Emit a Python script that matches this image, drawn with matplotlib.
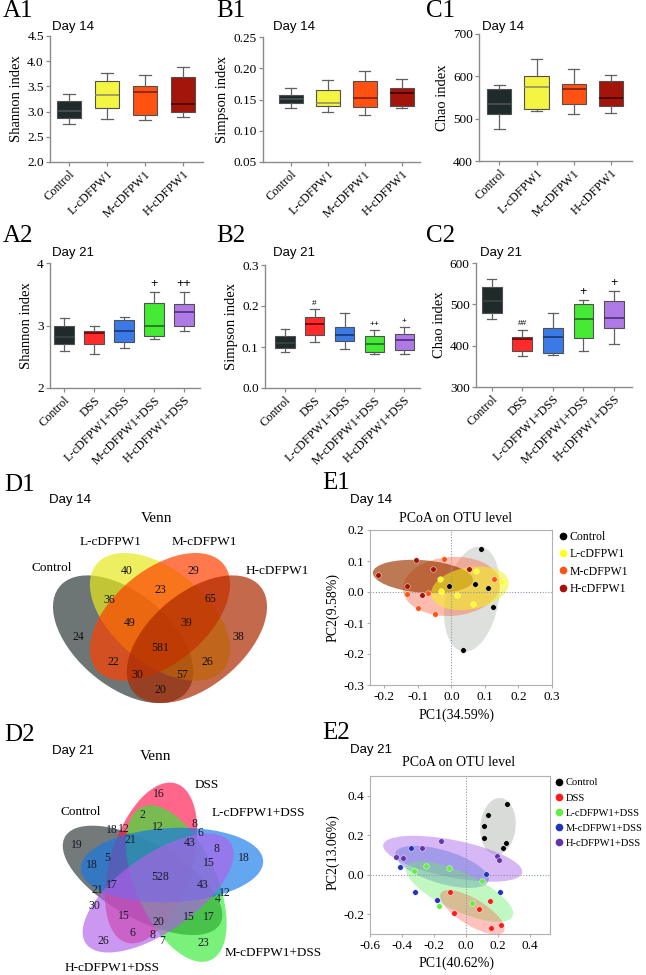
import numpy as np
import matplotlib
matplotlib.use("Agg")
import matplotlib.pyplot as plt
from matplotlib.patches import Ellipse
from matplotlib.lines import Line2D
from matplotlib.transforms import Affine2D

# ======================= DATA =======================
groups14 = ["Control", "L-cDFPW1", "M-cDFPW1", "H-cDFPW1"]
groups21 = ["Control", "DSS", "L-cDFPW1+DSS", "M-cDFPW1+DSS", "H-cDFPW1+DSS"]

# box statistics per group: [whisker low, Q1, median, Q3, whisker high]
shannon14 = [[2.76, 2.87, 3.02, 3.21, 3.34],
             [2.86, 3.08, 3.33, 3.60, 3.76],
             [2.84, 2.94, 3.39, 3.51, 3.73],
             [2.90, 2.99, 3.16, 3.69, 3.89]]
simpson14 = [[0.136, 0.145, 0.151, 0.158, 0.168],
             [0.130, 0.140, 0.145, 0.165, 0.181],
             [0.126, 0.138, 0.153, 0.180, 0.195],
             [0.136, 0.140, 0.160, 0.168, 0.183]]
chao14 = [[476, 510, 534, 569, 580],
          [518, 524, 575, 601, 640],
          [511, 534, 571, 583, 618],
          [513, 531, 549, 589, 603]]
shannon21 = [[2.59, 2.70, 2.82, 2.99, 3.12],
             [2.54, 2.70, 2.88, 2.91, 2.99],
             [2.64, 2.73, 2.92, 3.09, 3.13],
             [2.79, 2.83, 3.00, 3.36, 3.53],
             [2.91, 2.99, 3.21, 3.34, 3.54]]
simpson21 = [[0.088, 0.098, 0.110, 0.126, 0.143],
             [0.113, 0.129, 0.156, 0.172, 0.193],
             [0.094, 0.115, 0.130, 0.149, 0.183],
             [0.082, 0.088, 0.108, 0.126, 0.141],
             [0.082, 0.092, 0.118, 0.132, 0.149]]
chao21 = [[465, 478, 507, 542, 562],
          [374, 388, 415, 422, 439],
          [378, 383, 420, 442, 478],
          [388, 418, 464, 502, 511],
          [403, 443, 466, 507, 532]]
sig_shannon21 = ["", "", "", "+", "++"]
sig_simpson21 = ["", "#", "", "++", "+"]
sig_chao21 = ["", "##", "", "+", "+"]

# Venn counts
venn14_sets = ["Control", "L-cDFPW1", "M-cDFPW1", "H-cDFPW1"]
venn14_counts = [40, 29, 36, 23, 65, 24, 49, 39, 38, 581, 22, 26, 30, 57, 20]
venn21_sets = ["Control", "DSS", "L-cDFPW1+DSS", "M-cDFPW1+DSS", "H-cDFPW1+DSS"]
venn21_counts = [16, 2, 18, 12, 12, 8, 6, 19, 21, 43, 8, 18, 18, 5, 15, 528,
                 17, 43, 12, 4, 21, 30, 15, 20, 15, 17, 26, 6, 8, 7, 23]

# PCoA day 14 (PC1, PC2) per group
pcoa14_groups = ["Control", "L-cDFPW1", "M-cDFPW1", "H-cDFPW1"]
pcoa14_x = [[0.088, -0.008, 0.071, 0.110, 0.124, 0.034],
            [-0.034, -0.031, 0.016, 0.073, 0.065, 0.150],
            [-0.021, -0.134, -0.070, -0.100, -0.049, 0.126],
            [-0.220, -0.105, -0.055, -0.134, -0.089, 0.053]]
pcoa14_y = [[0.138, 0.019, 0.027, 0.014, -0.049, -0.187],
            [0.041, 0.003, -0.010, 0.068, -0.040, 0.033],
            [0.105, -0.008, -0.004, -0.051, -0.070, 0.041],
            [0.055, 0.102, 0.074, 0.019, -0.010, 0.074]]
# confidence ellipses: centre x, centre y, width, height, angle
pcoa14_ell_cx = [0.061, 0.055, 0.000, -0.085]
pcoa14_ell_cy = [-0.023, 0.012, 0.018, 0.050]
pcoa14_ell_w = [0.342, 0.235, 0.290, 0.300]
pcoa14_ell_h = [0.160, 0.135, 0.190, 0.105]
pcoa14_ell_ang = [81, 12, 5, -5]

pcoa21_groups = ["Control", "DSS", "L-cDFPW1+DSS", "M-cDFPW1+DSS", "H-cDFPW1+DSS"]
pcoa21_x = [[0.257, 0.137, 0.110, 0.114, 0.248, 0.232],
            [-0.102, 0.152, 0.081, -0.072, 0.217, 0.158],
            [-0.328, -0.250, -0.104, 0.100, 0.035, -0.167],
            [-0.343, -0.410, 0.125, -0.316, 0.211, -0.184],
            [-0.154, -0.276, -0.439, -0.395, 0.196, 0.204]]
pcoa21_y = [[0.360, 0.301, 0.245, 0.188, 0.162, 0.134],
            [-0.088, -0.132, -0.173, -0.195, -0.252, -0.271],
            [0.017, 0.044, 0.034, -0.032, -0.144, -0.156],
            [0.134, 0.037, 0.005, -0.088, -0.086, -0.127],
            [0.172, 0.135, 0.091, 0.083, 0.093, 0.073]]
pcoa21_ell_cx = [0.200, 0.040, -0.040, -0.150, -0.083]
pcoa21_ell_cy = [0.245, -0.190, -0.085, 0.040, 0.081]
pcoa21_ell_w = [0.290, 0.440, 0.710, 0.600, 0.880]
pcoa21_ell_h = [0.220, 0.140, 0.200, 0.170, 0.190]
pcoa21_ell_ang = [80, -25, -20, -13, -9]

# ======================= FIGURE =======================
W, H = 646, 975
fig = plt.figure(figsize=(W / 100, H / 100), dpi=100)
SERIF = ["Liberation Serif", "DejaVu Serif"]
SANS = ["Liberation Sans", "DejaVu Sans"]
plt.rcParams['font.family'] = SERIF


def px_axes(l, t, r, b):
    return fig.add_axes([l / W, 1 - b / H, (r - l) / W, (b - t) / H])


def ftext(x, y, s, **kw):
    kw.setdefault('va', 'center')
    return fig.text(x / W, 1 - y / H, s, **kw)


def panel_header(letter, lx, ly, day, dx, dy):
    ftext(lx, ly, letter, fontsize=18, family=SERIF, ha='left')
    ftext(dx, dy, day, fontsize=9.5, family=SANS, ha='left')


col14 = ["#1f2b2b", "#f4f442", "#ff5212", "#a3140a"]
med14 = ["#555555", "#8a8a60", "#7a1a08", "#3a0000"]
col21 = ["#1f2b2b", "#ff2a2a", "#3a7ae6", "#44ea33", "#b07ae6"]
med21 = ["#444444", "#600000", "#16306e", "#206020", "#462a70"]


def boxpanel(rect, xlim, stats, groups, colors, medcols, ylim, yticks, yfmt,
             ylabel, sig=None, sigsize=9):
    ax = px_axes(*rect)
    pos = np.arange(1, len(groups) + 1)
    bst = [dict(whislo=s[0], q1=s[1], med=s[2], q3=s[3], whishi=s[4], label=g)
           for s, g in zip(stats, groups)]
    bp = ax.bxp(bst, positions=pos, widths=0.65, capwidths=0.3, showfliers=False,
                patch_artist=True,
                boxprops=dict(linewidth=0.8, edgecolor='#505050'),
                whiskerprops=dict(color='#606060', linewidth=0.9),
                capprops=dict(color='#606060', linewidth=0.9),
                medianprops=dict(linewidth=1.1))
    for patch, c in zip(bp['boxes'], colors):
        patch.set_facecolor(c)
    for m, c in zip(bp['medians'], medcols):
        m.set_color(c)
    ax.set_xlim(*xlim)
    ax.set_ylim(ylim)
    ax.set_yticks(yticks)
    ax.set_yticklabels([yfmt.format(v) for v in yticks], fontsize=9.5)
    ax.set_xticks(pos)
    ax.set_xticklabels(groups, rotation=45, ha='right', rotation_mode='anchor',
                       fontsize=8.8)
    for sp in ['top', 'right']:
        ax.spines[sp].set_visible(False)
    for sp in ['left', 'bottom']:
        ax.spines[sp].set_color('#8a8a8a')
        ax.spines[sp].set_linewidth(1.0)
    ax.tick_params(axis='both', length=3, color='#8a8a8a', width=0.9, pad=1.5)
    ax.set_ylabel(ylabel, fontsize=10.5, labelpad=3)
    if sig is not None:
        for p, s, st in zip(pos, sig, stats):
            if s:
                fs = 6 if ('#' in s or sigsize < 7) else sigsize
                ax.annotate(s, xy=(p, st[4]), xytext=(0, 1.5), textcoords='offset points',
                            ha='center', va='bottom', fontsize=fs, family=SANS)
    return ax


# ---- Row 1 (Day 14) ----
panel_header("A1", 3, 11, "Day 14", 52, 27)
boxpanel((50, 36, 203, 162), (0.5, 4.53), shannon14, groups14, col14, med14,
         (2.0, 4.5), [2.0, 2.5, 3.0, 3.5, 4.0, 4.5], "{:.1f}", "Shannon index")
panel_header("B1", 216, 11, "Day 14", 273, 27)
boxpanel((263, 37, 420, 162), (0.25, 4.5), simpson14, groups14, col14, med14,
         (0.05, 0.25), [0.05, 0.10, 0.15, 0.20, 0.25], "{:.2f}", "Simpson index")
panel_header("C1", 426, 11, "Day 14", 482, 27)
boxpanel((479, 34, 632, 161), (0.45, 4.57), chao14, groups14, col14, med14,
         (400, 700), [400, 500, 600, 700], "{:d}", "Chao index")

# ---- Row 2 (Day 21) ----
panel_header("A2", 3, 236, "Day 21", 52, 253)
boxpanel((50, 263, 200, 388), (0.53, 5.53), shannon21, groups21, col21, med21,
         (2, 4), [2, 3, 4], "{:d}", "Shannon index", sig=sig_shannon21, sigsize=9)
panel_header("B2", 216, 236, "Day 21", 273, 253)
boxpanel((265, 265, 420, 388), (0.33, 5.53), simpson21, groups21, col21, med21,
         (0.0, 0.3), [0.0, 0.1, 0.2, 0.3], "{:.1f}", "Simpson index", sig=sig_simpson21,
         sigsize=6)
panel_header("C2", 426, 236, "Day 21", 480, 253)
boxpanel((476, 263, 632, 387), (0.48, 5.59), chao21, groups21, col21, med21,
         (300, 600), [300, 400, 500, 600], "{:d}", "Chao index", sig=sig_chao21, sigsize=9)

# ---- D1: 4-set Venn ----
panel_header("D1", 4, 485, "Day 14", 49, 500)
ftext(157, 518, "Venn", fontsize=11, ha='center')
axd1 = px_axes(0, 520, 320, 730)
axd1.set_xlim(0, 320)
axd1.set_ylim(730, 520)
axd1.axis('off')
uv2px = Affine2D().scale(246, -224).translate(160 - 0.5 * 246, 553 + 0.855 * 224)
venn14_cols = ["#303a3a", "#e7e91c", "#ff4100", "#ab2a00"]
venn14_geo = [((0.35, 0.47), -45), ((0.50, 0.57), -45), ((0.50, 0.57), 45), ((0.65, 0.47), 45)]
for (cxy, ang), c in zip(venn14_geo, venn14_cols):
    e = Ellipse(cxy, 0.70, 0.40, angle=ang, facecolor=c, edgecolor='none', alpha=0.7,
                transform=uv2px + axd1.transData)
    axd1.add_patch(e)
venn14_pos = [(127, 571), (193, 571), (109, 600), (160, 590), (210, 599), (78, 637),
              (130, 623), (186, 623), (238, 637), (160, 648), (113, 662), (207, 662),
              (137, 675), (182, 675), (160, 690)]
for (x, y), n in zip(venn14_pos, venn14_counts):
    axd1.text(x, y, str(n), fontsize=8.5, ha='center', va='center', color='#111111')
venn14_lab = [(52, 568), (111, 542), (204, 542), (277, 571)]
for (x, y), s in zip(venn14_lab, venn14_sets):
    ftext(x, y, s, fontsize=9.5, ha='center')

# ---- D2: 5-set Venn ----
panel_header("D2", 4, 735, "Day 21", 52, 751)
ftext(156, 757, "Venn", fontsize=11, ha='center')
axd2 = px_axes(0, 765, 320, 975)
axd2.set_xlim(0, 320)
axd2.set_ylim(975, 765)
axd2.axis('off')
CX, CY = 160, 877
flower = Affine2D().translate(-CX, -CY).scale(1.05, 0.95).translate(CX, CY)
venn21_cols = ["#2a3333", "#ff144a", "#1377ea", "#33ea33", "#b060ea"]
petal = {0: 147, 1: 75, 2: 3, 3: 291, 4: 219}
draw_order = [0, 1, 3, 2, 4]
for i in draw_order:
    phi = petal[i]
    off = np.deg2rad(phi + 45)
    cx = CX + 17 * np.cos(off)
    cy = CY - 17 * np.sin(off)
    e = Ellipse((cx, cy), 174, 78, angle=-phi, facecolor=venn21_cols[i], edgecolor='none',
                alpha=0.65, transform=flower + axd2.transData)
    axd2.add_patch(e)
venn21_pos = [(159, 794), (142, 815), (112, 830), (124, 829), (158, 827), (194, 824),
              (200, 833), (77, 845), (130, 840), (190, 843), (217, 849), (244, 858),
              (92, 865), (107, 858), (209, 863), (160, 877), (112, 885), (203, 885),
              (225, 893), (218, 899), (97, 890), (94, 906), (124, 916), (158, 922),
              (189, 917), (209, 917), (103, 941), (132, 933), (152, 935), (162, 941),
              (203, 943)]
for (x, y), n in zip(venn21_pos, venn21_counts):
    axd2.text(x, y, str(n), fontsize=8.5, ha='center', va='center', color='#1a1a2a')
venn21_lab = [(81, 812), (207, 785), (258, 813), (273, 953), (112, 968)]
for (x, y), s in zip(venn21_lab, venn21_sets):
    ftext(x, y, s, fontsize=9.5, ha='center')


# ---- PCoA panels ----
def pcoa_panel(rect, xlim, ylim, xticks, yticks, groups, xs, ys, pcols,
               ecx, ecy, ew, eh, eang, ecols, ealpha, eorder, legxy, legspace, legfs):
    ax = px_axes(*rect)
    for i in eorder:
        ax.add_patch(Ellipse((ecx[i], ecy[i]), ew[i], eh[i], angle=eang[i],
                             facecolor=ecols[i], edgecolor='none', alpha=ealpha[i], zorder=1))
    ax.axhline(0, ls=(0, (1, 1.5)), color='#8a98a8', lw=0.8, zorder=2)
    ax.axvline(0, ls=(0, (1, 1.5)), color='#8a98a8', lw=0.8, zorder=2)
    for x, y, c in zip(xs, ys, pcols):
        ax.scatter(x, y, s=16, color=c, edgecolors='white', linewidths=0.3, zorder=3)
    ax.set_xlim(*xlim)
    ax.set_ylim(*ylim)
    ax.set_xticks(xticks)
    ax.set_xticklabels(["{:.1f}".format(v) for v in xticks], fontsize=9.5)
    ax.set_yticks(yticks)
    ax.set_yticklabels(["{:.1f}".format(v) for v in yticks], fontsize=9.5)
    for sp in ax.spines.values():
        sp.set_color('#b0b0b0')
        sp.set_linewidth(0.8)
    ax.tick_params(length=2, color='#b0b0b0', pad=2)
    handles = [Line2D([], [], marker='o', ls='', color=c, markersize=4.5) for c in pcols]
    ax.legend(handles, groups, loc='upper left', bbox_to_anchor=(legxy[0] / W, 1 - legxy[1] / H),
              bbox_transform=fig.transFigure, frameon=False, fontsize=legfs,
              handlelength=0.8, handletextpad=0.2, labelspacing=legspace,
              borderpad=0, borderaxespad=0)
    return ax


panel_header("E1", 322, 483, "Day 14", 350, 500)
ftext(456, 518, "PCoA on OTU level", fontsize=10, ha='center')
pcoa_panel((370, 530, 552, 685), (-0.243, 0.3), (-0.3, 0.2),
           [-0.2, -0.1, 0.0, 0.1, 0.2, 0.3], [-0.3, -0.2, -0.1, 0.0, 0.1, 0.2],
           pcoa14_groups, pcoa14_x, pcoa14_y,
           ["#000000", "#ffff1a", "#ff5212", "#a51208"],
           pcoa14_ell_cx, pcoa14_ell_cy, pcoa14_ell_w, pcoa14_ell_h, pcoa14_ell_ang,
           ["#c8ccc8", "#f2f21a", "#ff6a4a", "#a0400a"], [0.6, 0.55, 0.45, 0.7],
           [0, 2, 3, 1], (558, 531), 0.45, 8.5)
ftext(333, 608, "PC2(9.58%)", fontsize=10, ha='center', rotation=90)
ftext(457, 715, "PC1(34.59%)", fontsize=10, ha='center')

panel_header("E2", 322, 733, "Day 21", 350, 750)
ftext(459, 763, "PCoA on OTU level", fontsize=10, ha='center')
pcoa_panel((370, 776, 550, 934), (-0.6, 0.525), (-0.3, 0.5),
           [-0.6, -0.4, -0.2, 0.0, 0.2, 0.4], [-0.2, 0.0, 0.2, 0.4],
           pcoa21_groups, pcoa21_x, pcoa21_y,
           ["#000000", "#ff1a1a", "#66ee44", "#2233bb", "#6633aa"],
           pcoa21_ell_cx, pcoa21_ell_cy, pcoa21_ell_w, pcoa21_ell_h, pcoa21_ell_ang,
           ["#c0c4c0", "#ff5040", "#66ee66", "#6677dd", "#b070ee"],
           [0.6, 0.35, 0.4, 0.45, 0.5],
           [0, 4, 3, 2, 1], (555, 778), 0.55, 7.6)
ftext(333, 852, "PC2(13.06%)", fontsize=10, ha='center', rotation=90)
ftext(457, 963, "PC1(40.62%)", fontsize=10, ha='center')

fig.savefig("out.png", dpi=100)
